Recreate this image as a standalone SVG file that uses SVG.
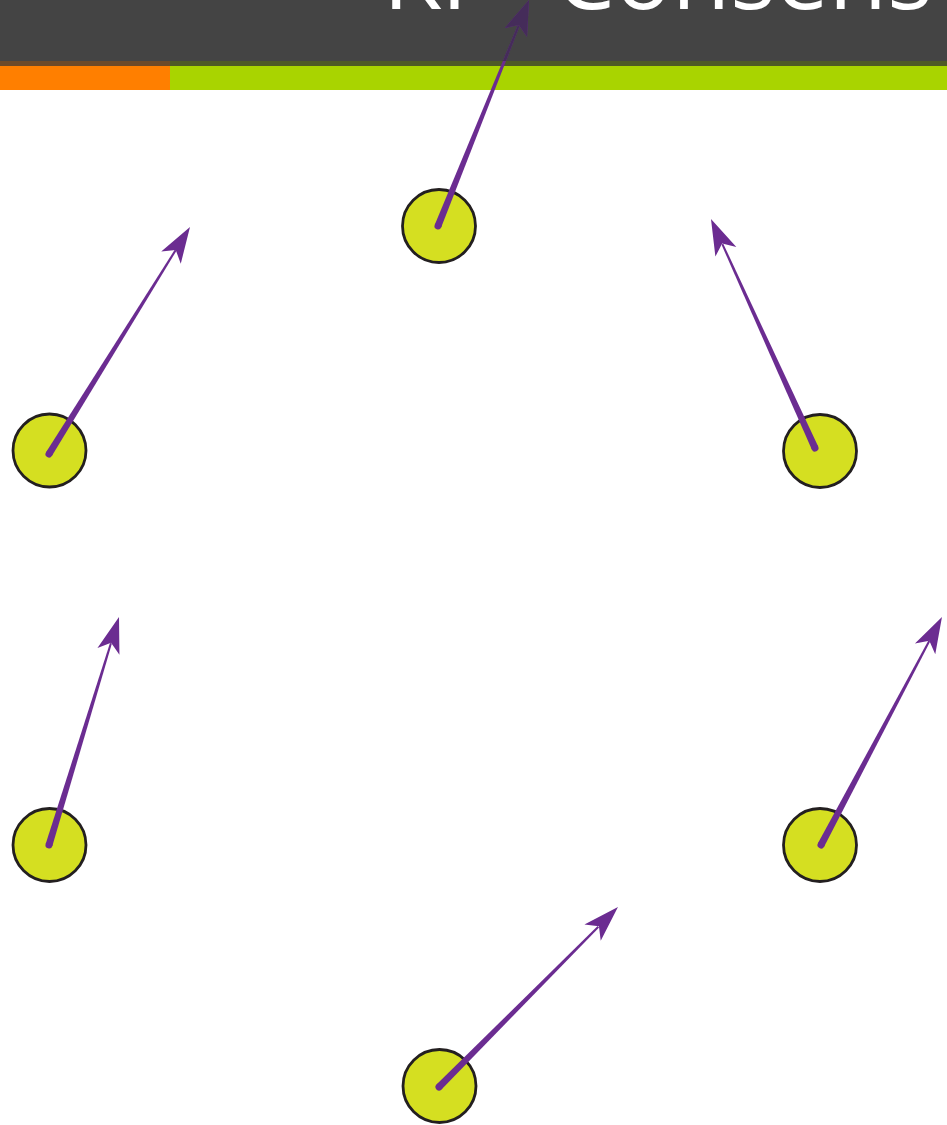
<svg xmlns="http://www.w3.org/2000/svg" width="947" height="1125" viewBox="0 0 947 1125">
  <style>
    .node circle { fill: #d5df21; stroke: #231f20; stroke-width: 2.8; }
    .shaft { fill: #6b2c91; }
    .title { font-family: "Open Sans", "Liberation Sans", sans-serif; font-weight: 400; font-size: 95px; fill: #ffffff; }
  </style>
  <defs>
    <clipPath id="hdr"><rect x="0" y="0" width="947" height="61"/></clipPath>
  </defs>
  <rect x="0" y="0" width="947" height="1125" fill="#ffffff"/>

  <g id="header">
    <rect x="0" y="0" width="947" height="61" fill="#444444"/>
    <rect x="0" y="61" width="170" height="5" fill="#6d4a29"/>
    <rect x="170" y="61" width="777" height="5" fill="#4e5a26"/>
    <rect x="0" y="66" width="170" height="24" fill="#ff7f00"/>
    <rect x="170" y="66" width="777" height="24" fill="#a9d400"/>
    <text class="title" x="383" y="9">KP</text>
    <text class="title" x="555" y="9">Consens</text>
  </g>

  <g id="node-top" class="node"><circle cx="439" cy="226" r="36.5"/></g>
  <g id="node-left-upper" class="node"><circle cx="49.5" cy="450.5" r="36.5"/></g>
  <g id="node-right-upper" class="node"><circle cx="820" cy="451" r="36.5"/></g>
  <g id="node-left-lower" class="node"><circle cx="49.5" cy="845" r="36.5"/></g>
  <g id="node-right-lower" class="node"><circle cx="820" cy="845" r="36.5"/></g>
  <g id="node-bottom" class="node"><circle cx="439.5" cy="1086" r="36.5"/></g>

  <g id="connectors" class="shaft">
    <g transform="translate(438,226) rotate(-68.07)">
      <circle cx="0" cy="0" r="3.5"/>
      <path d="M0,-3.5 L216,-1 L216,1 L0,3.5 Z"/>
      <path d="M243.6,0 L208.6,-12 L216.6,0 L208.6,12 Z"/>
    </g>
    <g clip-path="url(#hdr)" fill="#452c5a">
      <g transform="translate(438,226) rotate(-68.07)">
        <path d="M0,-3.5 L216,-1 L216,1 L0,3.5 Z"/>
        <path d="M243.6,0 L208.6,-12 L216.6,0 L208.6,12 Z"/>
      </g>
    </g>
    <g transform="translate(49,454) rotate(-58.15)">
      <circle cx="0" cy="0" r="3.5"/>
      <path d="M0,-3.5 L240,-1 L240,1 L0,3.5 Z"/>
      <path d="M267.2,0 L231.2,-11.5 L240.2,0 L231.2,11.5 Z"/>
    </g>
    <g transform="translate(815,448) rotate(-114.43)">
      <circle cx="0" cy="0" r="3.5"/>
      <path d="M0,-3.5 L224,-1 L224,1 L0,3.5 Z"/>
      <path d="M251.5,0 L215.5,-11.5 L224.5,0 L215.5,11.5 Z"/>
    </g>
    <g transform="translate(49,845) rotate(-72.93)">
      <circle cx="0" cy="0" r="3.5"/>
      <path d="M0,-3.5 L211,-1 L211,1 L0,3.5 Z"/>
      <path d="M238.5,0 L202.5,-11.5 L211.5,0 L202.5,11.5 Z"/>
    </g>
    <g transform="translate(821,845) rotate(-62.05)">
      <circle cx="0" cy="0" r="3.5"/>
      <path d="M0,-3.5 L231,-1 L231,1 L0,3.5 Z"/>
      <path d="M258.1,0 L222.1,-11.5 L231.1,0 L222.1,11.5 Z"/>
    </g>
    <g transform="translate(439,1087) rotate(-45.16)">
      <circle cx="0" cy="0" r="3.5"/>
      <path d="M0,-3.5 L226,-1 L226,1 L0,3.5 Z"/>
      <path d="M253.8,0 L217.8,-11.5 L226.8,0 L217.8,11.5 Z"/>
    </g>
  </g>
</svg>
